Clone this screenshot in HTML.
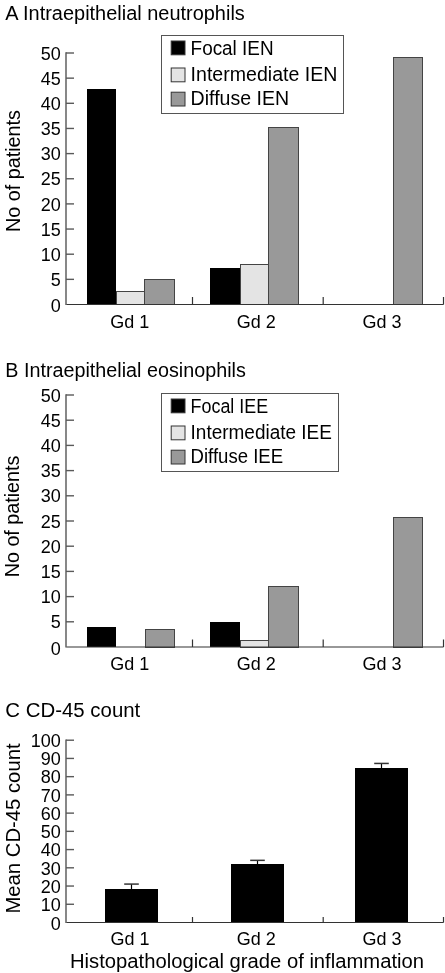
<!DOCTYPE html>
<html><head><meta charset="utf-8"><style>
html,body{margin:0;padding:0;background:#fff;width:445px;height:973px;overflow:hidden}
svg{display:block;filter:blur(0.35px)}
text{font-family:"Liberation Sans", sans-serif;fill:#000}
</style></head><body>
<svg width="445" height="973" viewBox="0 0 445 973">
<text x="5.3" y="20" font-size="20" textLength="239.5" lengthAdjust="spacingAndGlyphs">A Intraepithelial neutrophils</text>
<text x="19.5" y="232" font-size="20" textLength="122" lengthAdjust="spacingAndGlyphs" transform="rotate(-90 19.5 232)">No of patients</text>
<text x="60.7" y="312.4" font-size="18" text-anchor="end">0</text>
<text x="60.7" y="285.95" font-size="18" text-anchor="end">5</text>
<text x="60.7" y="260.8" font-size="18" text-anchor="end">10</text>
<text x="60.7" y="235.65" font-size="18" text-anchor="end">15</text>
<text x="60.7" y="210.5" font-size="18" text-anchor="end">20</text>
<text x="60.7" y="185.35" font-size="18" text-anchor="end">25</text>
<text x="60.7" y="160.2" font-size="18" text-anchor="end">30</text>
<text x="60.7" y="135.05" font-size="18" text-anchor="end">35</text>
<text x="60.7" y="109.9" font-size="18" text-anchor="end">40</text>
<text x="60.7" y="84.75" font-size="18" text-anchor="end">45</text>
<text x="60.7" y="59.6" font-size="18" text-anchor="end">50</text>
<rect x="87" y="89" width="29" height="215" fill="#000"/>
<rect x="116" y="291" width="29" height="13" fill="#e4e4e4"/>
<rect x="116.5" y="291.5" width="28" height="13" fill="none" stroke="#444" stroke-width="1"/>
<rect x="144" y="279" width="31" height="25" fill="#999"/>
<rect x="144.5" y="279.5" width="30" height="25" fill="none" stroke="#444" stroke-width="1"/>
<rect x="210" y="268" width="30" height="36" fill="#000"/>
<rect x="240" y="264" width="29" height="40" fill="#e4e4e4"/>
<rect x="240.5" y="264.5" width="28" height="40" fill="none" stroke="#444" stroke-width="1"/>
<rect x="268" y="127" width="31" height="177" fill="#999"/>
<rect x="268.5" y="127.5" width="30" height="177" fill="none" stroke="#444" stroke-width="1"/>
<rect x="393" y="57" width="30" height="247" fill="#999"/>
<rect x="393.5" y="57.5" width="29" height="247" fill="none" stroke="#444" stroke-width="1"/>
<line x1="66" y1="52.3" x2="66" y2="305" stroke="#6a6a6a" stroke-width="1.6"/>
<line x1="66" y1="279.35" x2="74" y2="279.35" stroke="#5a5a5a" stroke-width="1.4"/>
<line x1="66" y1="254.2" x2="74" y2="254.2" stroke="#5a5a5a" stroke-width="1.4"/>
<line x1="66" y1="229.05" x2="74" y2="229.05" stroke="#5a5a5a" stroke-width="1.4"/>
<line x1="66" y1="203.9" x2="74" y2="203.9" stroke="#5a5a5a" stroke-width="1.4"/>
<line x1="66" y1="178.75" x2="74" y2="178.75" stroke="#5a5a5a" stroke-width="1.4"/>
<line x1="66" y1="153.6" x2="74" y2="153.6" stroke="#5a5a5a" stroke-width="1.4"/>
<line x1="66" y1="128.45" x2="74" y2="128.45" stroke="#5a5a5a" stroke-width="1.4"/>
<line x1="66" y1="103.3" x2="74" y2="103.3" stroke="#5a5a5a" stroke-width="1.4"/>
<line x1="66" y1="78.15" x2="74" y2="78.15" stroke="#5a5a5a" stroke-width="1.4"/>
<line x1="66" y1="53" x2="74" y2="53" stroke="#5a5a5a" stroke-width="1.4"/>
<line x1="66.5" y1="304.5" x2="443.5" y2="304.5" stroke="#333" stroke-width="1.2"/>
<line x1="192.5" y1="297" x2="192.5" y2="304.5" stroke="#333" stroke-width="1.2"/>
<line x1="323.2" y1="297" x2="323.2" y2="304.5" stroke="#333" stroke-width="1.2"/>
<line x1="443.5" y1="297" x2="443.5" y2="304.5" stroke="#333" stroke-width="1.2"/>
<text x="129.7" y="327.6" font-size="18" text-anchor="middle">Gd 1</text>
<text x="256.2" y="327.6" font-size="18" text-anchor="middle">Gd 2</text>
<text x="382" y="327.6" font-size="18" text-anchor="middle">Gd 3</text>
<rect x="161.5" y="35.5" width="182" height="78" fill="#fff" stroke="#555" stroke-width="1"/>
<rect x="171.2" y="41" width="13.8" height="13.8" fill="#000" stroke="#333" stroke-width="1"/>
<rect x="171.2" y="68" width="13.8" height="13.8" fill="#e4e4e4" stroke="#333" stroke-width="1"/>
<rect x="171.2" y="92.2" width="13.8" height="13.8" fill="#999" stroke="#333" stroke-width="1"/>
<text x="190.6" y="55.3" font-size="19.5" textLength="83" lengthAdjust="spacingAndGlyphs">Focal IEN</text>
<text x="190.6" y="80.6" font-size="19.5" textLength="146.8" lengthAdjust="spacingAndGlyphs">Intermediate IEN</text>
<text x="190.6" y="105.2" font-size="19.5" textLength="98.5" lengthAdjust="spacingAndGlyphs">Diffuse IEN</text>
<text x="5.3" y="377" font-size="20" textLength="240.5" lengthAdjust="spacingAndGlyphs">B Intraepithelial eosinophils</text>
<text x="19.5" y="577.3" font-size="20" textLength="121.7" lengthAdjust="spacingAndGlyphs" transform="rotate(-90 19.5 577.3)">No of patients</text>
<text x="60.7" y="654.9" font-size="18" text-anchor="end">0</text>
<text x="60.7" y="628.4" font-size="18" text-anchor="end">5</text>
<text x="60.7" y="603.2" font-size="18" text-anchor="end">10</text>
<text x="60.7" y="578" font-size="18" text-anchor="end">15</text>
<text x="60.7" y="552.8" font-size="18" text-anchor="end">20</text>
<text x="60.7" y="527.6" font-size="18" text-anchor="end">25</text>
<text x="60.7" y="502.4" font-size="18" text-anchor="end">30</text>
<text x="60.7" y="477.2" font-size="18" text-anchor="end">35</text>
<text x="60.7" y="452" font-size="18" text-anchor="end">40</text>
<text x="60.7" y="426.8" font-size="18" text-anchor="end">45</text>
<text x="60.7" y="401.6" font-size="18" text-anchor="end">50</text>
<rect x="87" y="627" width="29" height="20" fill="#000"/>
<rect x="145" y="629" width="30" height="18" fill="#999"/>
<rect x="145.5" y="629.5" width="29" height="18" fill="none" stroke="#444" stroke-width="1"/>
<rect x="210" y="622" width="30" height="25" fill="#000"/>
<rect x="240" y="640" width="29" height="7" fill="#e4e4e4"/>
<rect x="240.5" y="640.5" width="28" height="7" fill="none" stroke="#444" stroke-width="1"/>
<rect x="268" y="586" width="31" height="61" fill="#999"/>
<rect x="268.5" y="586.5" width="30" height="61" fill="none" stroke="#444" stroke-width="1"/>
<rect x="393" y="517" width="30" height="130" fill="#999"/>
<rect x="393.5" y="517.5" width="29" height="130" fill="none" stroke="#444" stroke-width="1"/>
<line x1="66" y1="394.3" x2="66" y2="647.5" stroke="#6a6a6a" stroke-width="1.6"/>
<line x1="66" y1="621.8" x2="74" y2="621.8" stroke="#5a5a5a" stroke-width="1.4"/>
<line x1="66" y1="596.6" x2="74" y2="596.6" stroke="#5a5a5a" stroke-width="1.4"/>
<line x1="66" y1="571.4" x2="74" y2="571.4" stroke="#5a5a5a" stroke-width="1.4"/>
<line x1="66" y1="546.2" x2="74" y2="546.2" stroke="#5a5a5a" stroke-width="1.4"/>
<line x1="66" y1="521" x2="74" y2="521" stroke="#5a5a5a" stroke-width="1.4"/>
<line x1="66" y1="495.8" x2="74" y2="495.8" stroke="#5a5a5a" stroke-width="1.4"/>
<line x1="66" y1="470.6" x2="74" y2="470.6" stroke="#5a5a5a" stroke-width="1.4"/>
<line x1="66" y1="445.4" x2="74" y2="445.4" stroke="#5a5a5a" stroke-width="1.4"/>
<line x1="66" y1="420.2" x2="74" y2="420.2" stroke="#5a5a5a" stroke-width="1.4"/>
<line x1="66" y1="395" x2="74" y2="395" stroke="#5a5a5a" stroke-width="1.4"/>
<line x1="66.5" y1="647" x2="443.5" y2="647" stroke="#333" stroke-width="1.2"/>
<line x1="192.5" y1="639.5" x2="192.5" y2="647" stroke="#333" stroke-width="1.2"/>
<line x1="323.2" y1="639.5" x2="323.2" y2="647" stroke="#333" stroke-width="1.2"/>
<line x1="443.5" y1="639.5" x2="443.5" y2="647" stroke="#333" stroke-width="1.2"/>
<text x="129.7" y="670" font-size="18" text-anchor="middle">Gd 1</text>
<text x="256.2" y="670" font-size="18" text-anchor="middle">Gd 2</text>
<text x="382" y="670" font-size="18" text-anchor="middle">Gd 3</text>
<rect x="161.5" y="393.5" width="177" height="78" fill="#fff" stroke="#555" stroke-width="1"/>
<rect x="171.2" y="399" width="13.8" height="13.8" fill="#000" stroke="#333" stroke-width="1"/>
<rect x="171.2" y="426" width="13.8" height="13.8" fill="#e4e4e4" stroke="#333" stroke-width="1"/>
<rect x="171.2" y="450.2" width="13.8" height="13.8" fill="#999" stroke="#333" stroke-width="1"/>
<text x="190.6" y="413.3" font-size="19.5" textLength="77.5" lengthAdjust="spacingAndGlyphs">Focal IEE</text>
<text x="190.6" y="438.6" font-size="19.5" textLength="141.3" lengthAdjust="spacingAndGlyphs">Intermediate IEE</text>
<text x="190.6" y="463.2" font-size="19.5" textLength="92.5" lengthAdjust="spacingAndGlyphs">Diffuse IEE</text>
<text x="5.3" y="716.6" font-size="20" textLength="135" lengthAdjust="spacingAndGlyphs">C CD-45 count</text>
<text x="19.7" y="913.6" font-size="20" textLength="170.2" lengthAdjust="spacingAndGlyphs" transform="rotate(-90 19.7 913.6)">Mean CD-45 count</text>
<text x="60.7" y="930.3" font-size="18" text-anchor="end">0</text>
<text x="60.7" y="911.07" font-size="18" text-anchor="end">10</text>
<text x="60.7" y="892.84" font-size="18" text-anchor="end">20</text>
<text x="60.7" y="874.61" font-size="18" text-anchor="end">30</text>
<text x="60.7" y="856.38" font-size="18" text-anchor="end">40</text>
<text x="60.7" y="838.15" font-size="18" text-anchor="end">50</text>
<text x="60.7" y="819.92" font-size="18" text-anchor="end">60</text>
<text x="60.7" y="801.69" font-size="18" text-anchor="end">70</text>
<text x="60.7" y="783.46" font-size="18" text-anchor="end">80</text>
<text x="60.7" y="765.23" font-size="18" text-anchor="end">90</text>
<text x="60.7" y="747" font-size="18" text-anchor="end">100</text>
<rect x="105" y="889" width="53" height="33" fill="#000"/>
<line x1="131.5" y1="884.08" x2="131.5" y2="889" stroke="#000" stroke-width="1.2"/>
<line x1="124.2" y1="884.08" x2="138.8" y2="884.08" stroke="#333" stroke-width="1.5"/>
<rect x="231" y="864" width="53" height="58" fill="#000"/>
<line x1="257.5" y1="860.35" x2="257.5" y2="864" stroke="#000" stroke-width="1.2"/>
<line x1="250.2" y1="860.35" x2="264.8" y2="860.35" stroke="#333" stroke-width="1.5"/>
<rect x="355" y="768" width="53" height="154" fill="#000"/>
<line x1="381.5" y1="763.44" x2="381.5" y2="768" stroke="#000" stroke-width="1.2"/>
<line x1="374.2" y1="763.44" x2="388.8" y2="763.44" stroke="#333" stroke-width="1.5"/>
<line x1="66" y1="739.5" x2="66" y2="923" stroke="#6a6a6a" stroke-width="1.6"/>
<line x1="66" y1="904.27" x2="74" y2="904.27" stroke="#5a5a5a" stroke-width="1.4"/>
<line x1="66" y1="886.04" x2="74" y2="886.04" stroke="#5a5a5a" stroke-width="1.4"/>
<line x1="66" y1="867.81" x2="74" y2="867.81" stroke="#5a5a5a" stroke-width="1.4"/>
<line x1="66" y1="849.58" x2="74" y2="849.58" stroke="#5a5a5a" stroke-width="1.4"/>
<line x1="66" y1="831.35" x2="74" y2="831.35" stroke="#5a5a5a" stroke-width="1.4"/>
<line x1="66" y1="813.12" x2="74" y2="813.12" stroke="#5a5a5a" stroke-width="1.4"/>
<line x1="66" y1="794.89" x2="74" y2="794.89" stroke="#5a5a5a" stroke-width="1.4"/>
<line x1="66" y1="776.66" x2="74" y2="776.66" stroke="#5a5a5a" stroke-width="1.4"/>
<line x1="66" y1="758.43" x2="74" y2="758.43" stroke="#5a5a5a" stroke-width="1.4"/>
<line x1="66" y1="740.2" x2="74" y2="740.2" stroke="#5a5a5a" stroke-width="1.4"/>
<line x1="66.5" y1="922.5" x2="443.5" y2="922.5" stroke="#333" stroke-width="1.2"/>
<line x1="192.5" y1="917" x2="192.5" y2="922.5" stroke="#333" stroke-width="1.2"/>
<line x1="323.2" y1="917" x2="323.2" y2="922.5" stroke="#333" stroke-width="1.2"/>
<line x1="443.5" y1="917" x2="443.5" y2="922.5" stroke="#333" stroke-width="1.2"/>
<text x="130" y="945" font-size="18" text-anchor="middle">Gd 1</text>
<text x="256.2" y="945" font-size="18" text-anchor="middle">Gd 2</text>
<text x="382" y="945" font-size="18" text-anchor="middle">Gd 3</text>
<text x="70" y="968" font-size="19.5" textLength="354" lengthAdjust="spacingAndGlyphs">Histopathological grade of inflammation</text>
</svg>
</body></html>
